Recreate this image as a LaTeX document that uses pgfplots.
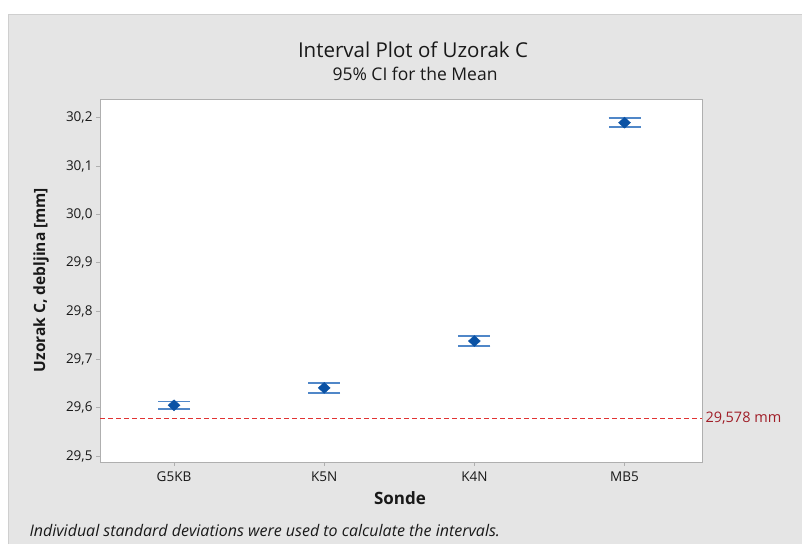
\documentclass[border=0pt]{standalone}
\usepackage{fontspec}
\setmainfont{Open Sans}
\usepackage{pgfplots}
\pgfplotsset{compat=1.18}
\usepackage{pgfplotstable}
\definecolor{bggray}{RGB}{229,229,229}
\definecolor{axgray}{RGB}{175,175,175}
\definecolor{txt}{RGB}{25,25,25}
\definecolor{markblue}{RGB}{10,82,165}
\definecolor{barblue}{RGB}{80,135,200}
\definecolor{refred}{RGB}{225,50,50}
\definecolor{labred}{RGB}{160,30,40}
\pgfplotstableread{
x mean ep em
0 29.605 0.0075 0.0075
1 29.641 0.0105 0.0105
2 29.738 0.0105 0.0105
3 30.190 0.0095 0.0095
}\ci
\begin{document}
\begin{tikzpicture}[x=1pt,y=1pt]
\path[use as bounding box] (0pt,0pt) rectangle (802pt,544pt);
\fill[white] (0pt,0pt) rectangle (802pt,544pt);
\fill[bggray] (8pt,0pt) rectangle (802pt,530pt);
\draw[axgray!60,line width=0.6pt] (8pt,0pt) -- (8pt,530pt) -- (802pt,530pt);
\node[txt,font=\fontsize{20.5}{22}\selectfont] at (413pt,494pt) {Interval Plot of Uzorak C};
\node[txt,font=\fontsize{17.5}{19}\selectfont] at (415pt,470pt) {95\% CI for the Mean};
\node[txt,font=\fontsize{17}{19}\selectfont\bfseries] at (400pt,46pt) {Sonde};
\node[txt,font=\fontsize{15.5}{17}\selectfont\bfseries,rotate=90] at (41pt,264pt) {Uzorak C, debljina [mm]};
\node[txt,font=\fontsize{16}{18}\selectfont\itshape,anchor=west] at (26pt,13pt) {Individual standard deviations were used to calculate the intervals.};
\begin{axis}[
  at={(100pt,82pt)}, anchor=south west,
  scale only axis, width=602pt, height=362pt,
  xmin=-0.493, xmax=3.516, ymin=29.4876, ymax=30.237,
  axis background/.style={fill=white},
  axis line style={axgray,line width=1pt},
  xtick={0,1,2,3}, xticklabels={G5KB,K5N,K4N,MB5},
  ytick={29.5,29.6,29.7,29.8,29.9,30.0,30.1,30.2},
  tick align=outside, tick pos=left,
  major tick length=4pt,
  tick style={axgray,line width=0.8pt},
  ticklabel style={txt,font=\fontsize{13.5}{15}\selectfont},
  /pgf/number format/assume math mode=true,
  yticklabel style={/pgf/number format/.cd,fixed,fixed zerofill,precision=1,use comma},
  xticklabel style={yshift=-2pt},
  clip=false,
]
\addplot[refred, dashed, line width=0.9pt, dash pattern=on 5pt off 3pt, forget plot] coordinates {(-0.493,29.578) (3.516,29.578)};
\node[labred, anchor=west, font=\fontsize{14.5}{16}\selectfont] at (axis cs:3.516,29.578) {29,578 mm};
\addplot[only marks, mark=diamond*, mark size=5.5pt,
  mark options={markblue, fill=markblue, xscale=1.45},
  error bars/.cd, y dir=both, y explicit,
  error bar style={barblue, line width=1.2pt},
  error mark options={rotate=90, mark size=16pt, barblue, line width=1.6pt}]
  table[x=x, y=mean, y error plus=ep, y error minus=em] {\ci};
\end{axis}
\end{tikzpicture}
\end{document}
